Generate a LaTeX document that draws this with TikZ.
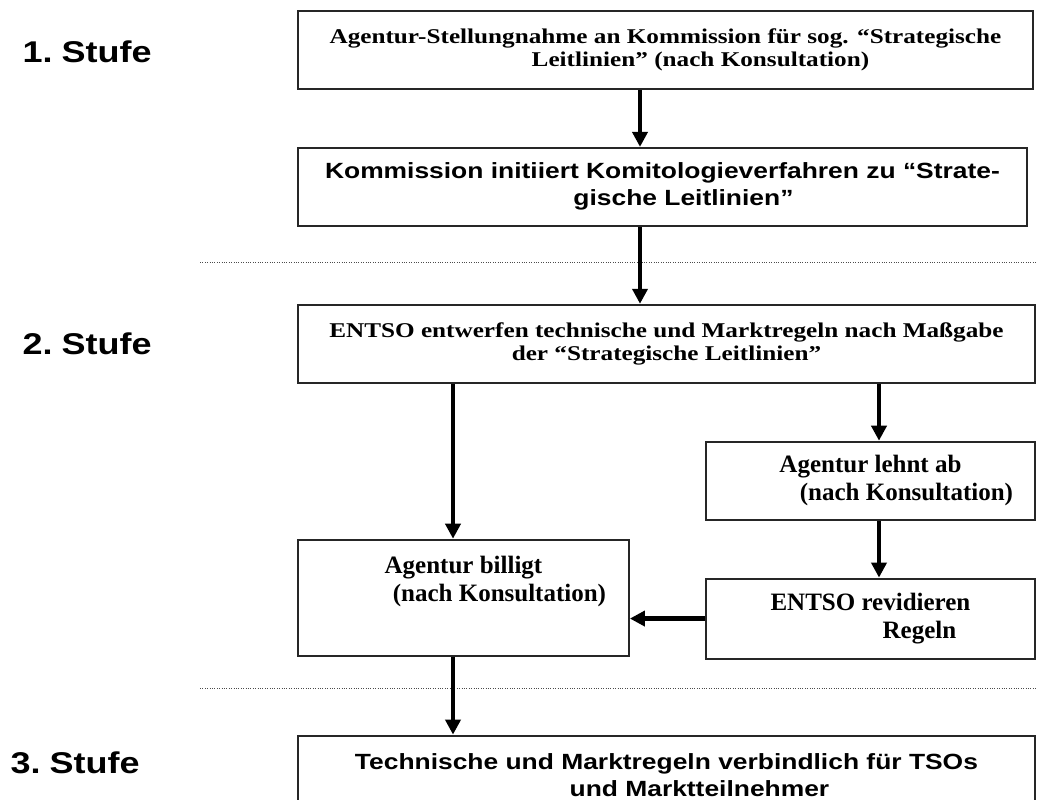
\documentclass[tikz,border=0pt]{standalone}
\usepackage{fontspec}
\usepackage{tikz}
\usetikzlibrary{arrows.meta, positioning}

\newfontfamily\tmswide[FakeStretch=1.2]{Liberation Serif}
\newfontfamily\tmsplain{Liberation Serif}
\newfontfamily\arlwide[FakeStretch=1.2]{Liberation Sans}

\begin{document}
\begin{tikzpicture}[
    x=1pt, y=-1pt,
    node distance = 57pt and 0pt,
    box/.style    = {draw=black!85, line width=1.9pt, minimum width=#1,
                     minimum height=78pt, inner sep=0pt, align=center},
    ser/.style    = {font=\tmswide\bfseries\fontsize{21}{23}\selectfont},
    serbig/.style = {font=\tmsplain\bfseries\fontsize{25}{28}\selectfont},
    san/.style    = {font=\arlwide\bfseries\fontsize{22}{27}\selectfont},
    stage/.style  = {font=\arlwide\bfseries\fontsize{30}{34}\selectfont, anchor=west},
    arr/.style    = {-{Triangle[length=15pt, width=15pt]}, line width=4.4pt},
    sep/.style    = {draw=black!70, line width=0.9pt, dash pattern=on 1pt off 1.4pt},
]
\clip (0,0) rectangle (1039,800);

% 1. Stufe
\node[box=735pt, ser, anchor=north west] (top) at (297,10)
    {Agentur-Stellungnahme an Kommission für sog. “Strategische\\
     \hspace*{70pt}Leitlinien” (nach Konsultation)};
\node[box=729pt, san, below right=57pt and 0pt of top.south west] (kom)
    {Kommission initiiert Komitologieverfahren zu “Strate-\\
     \hspace*{42pt}gische Leitlinien”};

% 2. Stufe
\node[box=737pt, ser, below right=77pt and 0pt of kom.south west] (entso)
    {ENTSO entwerfen technische und Marktregeln nach Maßgabe\\
     der “Strategische Leitlinien”};
\node[box=329pt, serbig, below left=57pt and 0pt of entso.south east] (lehnt)
    {Agentur lehnt ab\\\hspace*{72pt}(nach Konsultation)};
\node[box=329pt, serbig, minimum height=80pt, below=57pt of lehnt] (revid)
    {ENTSO revidieren\\\hspace*{98pt}Regeln};
\node[box=331pt, serbig, minimum height=116pt,
      below right=155pt and 0pt of entso.south west] (billigt)
    {Agentur billigt\\\hspace*{72pt}(nach Konsultation)\\[10pt]\mbox{}};

% 3. Stufe
\node[box=737pt, san, minimum height=80pt,
      below right=78pt and 0pt of billigt.south west] (final)
    {Technische und Marktregeln verbindlich für TSOs\\
     \hspace*{66pt}und Marktteilnehmer};

% stage labels
\node[stage] (st1) at (19,52)  {1.\hspace*{9pt}Stufe};
\node[stage] (st2) at (19,344) {2.\hspace*{9pt}Stufe};
\node[stage] (st3) at (7,763)  {3.\hspace*{9pt}Stufe};

% separators
\coordinate (s1a) at (200,262);
\coordinate (s1b) at (1036,262);
\coordinate (s2a) at (200,688);
\coordinate (s2b) at (1036,688);
\draw[sep] (s1a) -- (s1b);
\draw[sep] (s2a) -- (s2b);

% arrows
\coordinate (xm) at (640,0);
\coordinate (xl) at (453,0);
\coordinate (xr) at (879,0);
\draw[arr] (top.south -| xm)     -- (kom.north -| xm);
\draw[arr] (kom.south -| xm)     -- (entso.north -| xm);
\draw[arr] (entso.south -| xl)   -- (billigt.north -| xl);
\draw[arr] (entso.south -| xr)   -- (lehnt.north -| xr);
\draw[arr] (lehnt.south -| xr)   -- (revid.north -| xr);
\draw[arr] (revid.west)          -- (revid.west -| billigt.east);
\draw[arr] (billigt.south -| xl) -- (final.north -| xl);

\end{tikzpicture}
\end{document}
